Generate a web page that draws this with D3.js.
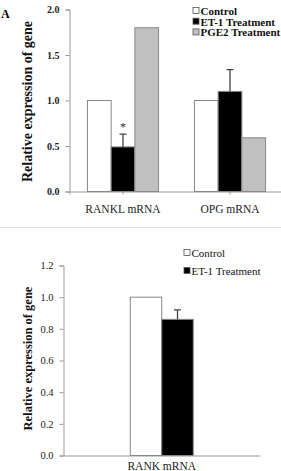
<!DOCTYPE html>
<html>
<head>
<meta charset="utf-8">
<script src="https://cdn.jsdelivr.net/npm/d3@7"></script>
<style>
  body { margin: 0; background: #fff; }
  svg text { font-family: "Liberation Serif", "Times New Roman", serif !important; }
</style>
</head>
<body>
<script>
// panel A data
var genesA = ["RANKL mRNA", "OPG mRNA"];
var seriesA = ["Control", "ET-1 Treatment", "PGE2 Treatment"];
var controlA = [1.0, 1.0];
var et1A = [0.49, 1.10];
var pge2A = [1.80, 0.59];
var et1ErrA = [0.14, 0.24];
var yTicksA = [0.0, 0.5, 1.0, 1.5, 2.0];

// panel B data
var genesB = ["RANK mRNA"];
var seriesB = ["Control", "ET-1 Treatment"];
var controlB = [1.0];
var et1B = [0.86];
var et1ErrB = [0.06];
var yTicksB = [0.0, 0.2, 0.4, 0.6, 0.8, 1.0, 1.2];

var colors = { "Control": "#ffffff", "ET-1 Treatment": "#000000", "PGE2 Treatment": "#c0c0c0" };

var svg = d3.select("body").append("svg")
  .attr("width", 281)
  .attr("height", 471);

// separator between the two panels
svg.append("line")
  .attr("x1", 0).attr("x2", 281)
  .attr("y1", 227.5).attr("y2", 227.5)
  .attr("stroke", "#e2e2e2");

function drawPanel(opt) {
  var g = svg.append("g");
  var y = d3.scaleLinear().domain(opt.domain).range([opt.y0, opt.y1]);
  var x = d3.scaleBand().domain(opt.genes).range([opt.x0, opt.x1]);
  var xs = d3.scaleBand().domain(opt.series).range([0, opt.barW * opt.series.length]);

  // y axis
  var yAxis = g.append("g")
    .attr("transform", "translate(" + opt.x0 + ",0)")
    .call(d3.axisLeft(y).tickValues(opt.ticks).tickFormat(d3.format(".1f")).tickSize(4).tickPadding(6));
  yAxis.select(".domain").attr("stroke", "#999");
  yAxis.selectAll(".tick line").attr("stroke", "#999");
  yAxis.selectAll("text")
    .attr("fill", "#222")
    .style("font-size", opt.tickSize + "px")
    .style("font-weight", opt.tickWeight);

  // x axis
  var xAxis = g.append("g")
    .attr("transform", "translate(0," + opt.y0 + ")")
    .call(d3.axisBottom(x).tickSize(opt.xTick).tickPadding(opt.catPad));
  xAxis.select(".domain").attr("stroke", "#999");
  xAxis.selectAll(".tick line").attr("stroke", "#999");
  xAxis.selectAll("text")
    .attr("fill", "#222")
    .style("font-size", "11.5px");

  // bars
  opt.series.forEach(function (s, si) {
    var vals = opt.values[si];
    g.selectAll(null)
      .data(opt.genes)
      .enter().append("rect")
      .attr("x", function (d) { return x(d) + (x.bandwidth() - xs.range()[1]) / 2 + xs(s); })
      .attr("y", function (d, i) { return y(vals[i]); })
      .attr("width", xs.bandwidth())
      .attr("height", function (d, i) { return y(0) - y(vals[i]); })
      .attr("fill", colors[s])
      .attr("stroke", "#888")
      .attr("stroke-width", 1);
  });

  // error bars on ET-1 series
  var errIdx = 1;
  g.selectAll(null)
    .data(opt.genes)
    .enter().append("path")
    .attr("d", function (d, i) {
      var cx = x(d) + (x.bandwidth() - xs.range()[1]) / 2 + xs(opt.series[errIdx]) + xs.bandwidth() / 2;
      var v = opt.values[errIdx][i];
      var top = y(v + opt.err[i]);
      return "M" + cx + "," + y(v) + "V" + top + "M" + (cx - 3.5) + "," + top + "H" + (cx + 3.5);
    })
    .attr("stroke", "#444")
    .attr("stroke-width", 1.3)
    .attr("fill", "none");

  // y title
  g.append("text")
    .attr("transform", "translate(" + opt.titleX + "," + ((opt.y0 + opt.y1) / 2 + opt.titleDy) + ") rotate(-90)")
    .attr("text-anchor", "middle")
    .style("font-size", opt.titleSize + "px")
    .style("font-weight", "bold")
    .attr("fill", "#111")
    .text("Relative expression of gene");

  // legend
  var lg = g.append("g").attr("transform", "translate(" + opt.legX + "," + opt.legY + ")");
  opt.series.forEach(function (s, i) {
    var row = lg.append("g").attr("transform", "translate(0," + i * opt.legStep + ")");
    row.append("rect")
      .attr("x", 0).attr("y", -3.5)
      .attr("width", 6).attr("height", 6)
      .attr("fill", colors[s])
      .attr("stroke", "#555")
      .attr("stroke-width", 0.8);
    row.append("text")
      .attr("x", 7.5).attr("y", 0)
      .attr("dy", "0.35em")
      .style("font-size", opt.legSize + "px")
      .style("font-weight", opt.legWeight)
      .attr("fill", "#111")
      .text(s);
  });
  return { x: x, y: y, xs: xs };
}

var pa = drawPanel({
  genes: genesA, series: seriesA,
  values: [controlA, et1A, pge2A], err: et1ErrA,
  domain: [0, 2], ticks: yTicksA,
  x0: 69.5, x1: 283.5, y0: 191.5, y1: 9.5,
  barW: 23.7, xTick: 3, catPad: 10,
  tickSize: 10, tickWeight: "bold",
  titleX: 32, titleDy: 1, titleSize: 14,
  legX: 193, legY: 11, legStep: 10.7, legSize: 11, legWeight: "bold"
});

// significance mark
svg.append("text")
  .attr("x", pa.x("RANKL mRNA") + (pa.x.bandwidth() - pa.xs.range()[1]) / 2 + pa.xs("ET-1 Treatment") + pa.xs.bandwidth() / 2)
  .attr("y", pa.y(0.49 + 0.14) - 3)
  .attr("text-anchor", "middle")
  .style("font-size", "12px")
  .attr("fill", "#333")
  .text("*");

// panel label
svg.append("text")
  .attr("x", 1).attr("y", 18)
  .style("font-size", "12px")
  .style("font-weight", "bold")
  .text("A");

drawPanel({
  genes: genesB, series: seriesB,
  values: [controlB, et1B], err: et1ErrB,
  domain: [0, 1.2], ticks: yTicksB,
  x0: 63.5, x1: 260, y0: 455.5, y1: 265.5,
  barW: 31.5, xTick: 0, catPad: 6,
  tickSize: 10.5, tickWeight: "normal",
  titleX: 32, titleDy: -2, titleSize: 12.5,
  legX: 184, legY: 253, legStep: 18, legSize: 11, legWeight: "normal"
});
</script>
</body>
</html>
